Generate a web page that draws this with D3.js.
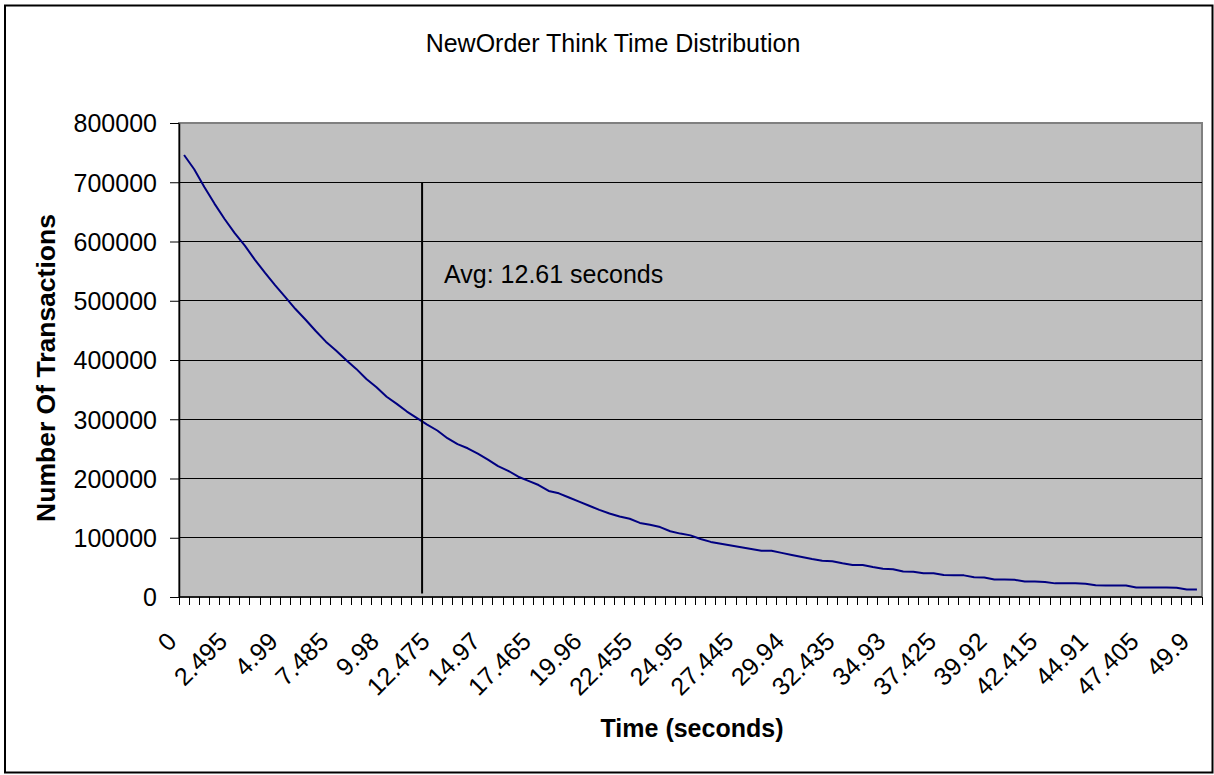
<!DOCTYPE html>
<html><head><meta charset="utf-8">
<script src="https://cdn.jsdelivr.net/npm/d3@7"></script>
<style>
body{margin:0;background:#fff}
svg{display:block}
text{font-family:"Liberation Sans",Arial,Helvetica,sans-serif;fill:#000}
</style>
</head><body>
<svg id="chart" width="1214" height="775"></svg>
<script>
// ---- data ----
const categories = ["0","0.499","0.998","1.497","1.996","2.495","2.994","3.493","3.992","4.491",
"4.99","5.489","5.988","6.487","6.986","7.485","7.984","8.483","8.982","9.481",
"9.98","10.479","10.978","11.477","11.976","12.475","12.974","13.473","13.972","14.471",
"14.97","15.469","15.968","16.467","16.966","17.465","17.964","18.463","18.962","19.461",
"19.96","20.459","20.958","21.457","21.956","22.455","22.954","23.453","23.952","24.451",
"24.95","25.449","25.948","26.447","26.946","27.445","27.944","28.443","28.942","29.441",
"29.94","30.439","30.938","31.437","31.936","32.435","32.934","33.433","33.932","34.431",
"34.93","35.429","35.928","36.427","36.926","37.425","37.924","38.423","38.922","39.421",
"39.92","40.419","40.918","41.417","41.916","42.415","42.914","43.413","43.912","44.411",
"44.91","45.409","45.908","46.407","46.906","47.405","47.904","48.403","48.902","49.401","49.9"];

const transactions = [746000,722000,692000,664000,638000,614000,593000,569000,547000,526000,
506000,486000,468000,449000,431000,416000,400000,385000,368000,354000,
338000,326000,313000,302000,291000,281000,268000,258000,251000,242000,
232000,221000,213000,203000,196000,189000,179000,175000,168000,161000,
154000,147000,141000,136000,132000,125000,122000,118000,111000,107000,
104000,98000,93000,90000,87000,84000,81000,78000,78000,74500,
71000,67500,64000,61000,60500,57000,54000,54000,50500,47500,
47000,43000,42500,40000,40000,37000,36500,36500,33500,33000,
29500,29500,29000,26000,26000,25500,23000,23000,23000,22500,
20000,19500,19500,19500,16000,16000,16000,16000,15500,12500,12500];

const xTickLabels = ["0","2.495","4.99","7.485","9.98","12.475","14.97","17.465","19.96","22.455",
"24.95","27.445","29.94","32.435","34.93","37.425","39.92","42.415","44.91","47.405","49.9"];
const yTicks = [0,100000,200000,300000,400000,500000,600000,700000,800000];

const titleText = "NewOrder Think Time Distribution";
const xTitle = "Time (seconds)";
const yTitle = "Number Of Transactions";
const avgLabel = "Avg: 12.61 seconds";
const avgLineCategory = "11.976";   // the marker line sits at the left edge of this category
const avgLineRange = [6000, 700000];

// ---- layout ----
const W = 1214, H = 775;
const P = {l:179, t:123, r:1202, b:597};
const FS = 25;

const svg = d3.select("#chart");

// chart area border
svg.append("rect").attr("x",5).attr("y",5.5).attr("width",1207.5).attr("height",767)
  .attr("fill","#fff").attr("stroke","#000").attr("stroke-width",2);

const x = d3.scaleBand().domain(categories).range([P.l, P.r]).padding(0);
const y = d3.scaleLinear().domain([0, 800000]).range([P.b, P.t]);
const cx = c => x(c) + x.bandwidth()/2;

// plot area
svg.append("rect").attr("x",P.l).attr("y",P.t).attr("width",P.r-P.l).attr("height",P.b-P.t)
  .attr("fill","#c0c0c0").attr("stroke","#808080").attr("stroke-width",2);

// gridlines
svg.append("g").attr("shape-rendering","crispEdges")
  .selectAll("line").data(yTicks.filter(d => d > 0 && d < 800000)).join("line")
  .attr("x1",P.l).attr("x2",P.r).attr("y1",d=>y(d)).attr("y2",d=>y(d))
  .attr("stroke","#000").attr("stroke-width",1);

// y axis
const yAxis = svg.append("g").attr("transform",`translate(${P.l},0)`)
  .call(d3.axisLeft(y).tickValues(yTicks).tickSizeInner(9).tickSizeOuter(0).tickPadding(13).tickFormat(d3.format("d")));
yAxis.select(".domain").attr("stroke","#000").attr("stroke-width",1.5);
yAxis.selectAll(".tick line").attr("stroke","#000");
yAxis.selectAll("text").attr("font-size",FS).attr("font-family",null).attr("dy","0.35em");

// x axis line
svg.append("line").attr("x1",P.l).attr("x2",P.r).attr("y1",y(0)).attr("y2",y(0))
  .attr("stroke","#000").attr("stroke-width",1.5);

// x ticks at category boundaries
const tickXs = categories.map(c => x(c)).concat([x(categories[categories.length-1]) + x.bandwidth()]);
svg.append("g").attr("shape-rendering","crispEdges")
  .selectAll("line").data(tickXs).join("line")
  .attr("x1",d=>d).attr("x2",d=>d).attr("y1",y(0)).attr("y2",y(0)+8)
  .attr("stroke","#000").attr("stroke-width",1);

// x tick labels
svg.append("g").selectAll("text").data(xTickLabels).join("text")
  .attr("transform", d => `translate(${cx(d)-6},${y(0)+46}) rotate(-45)`)
  .attr("text-anchor","end").attr("font-size",FS).text(d => d);

// series line
const line = d3.line().x((d,i) => cx(categories[i])).y(d => y(d));
svg.append("path").datum(transactions).attr("d",line)
  .attr("fill","none").attr("stroke","#000080").attr("stroke-width",2).attr("stroke-linejoin","round");

// average marker line
svg.append("line").attr("x1",x(avgLineCategory)).attr("x2",x(avgLineCategory))
  .attr("y1",y(avgLineRange[1])).attr("y2",y(avgLineRange[0]))
  .attr("stroke","#000").attr("stroke-width",2);

svg.append("text").attr("x",x(avgLineCategory)+22).attr("y",283).attr("font-size",FS).text(avgLabel);

// titles
svg.append("text").attr("x",613).attr("y",52).attr("text-anchor","middle").attr("font-size",FS).text(titleText);
svg.append("text").attr("x",692).attr("y",737).attr("text-anchor","middle").attr("font-size",FS)
  .attr("font-weight","bold").text(xTitle);
svg.append("text").attr("transform","translate(55,368) rotate(-90)").attr("text-anchor","middle")
  .attr("font-size",26.5).attr("font-weight","bold").text(yTitle);
</script>
</body></html>
